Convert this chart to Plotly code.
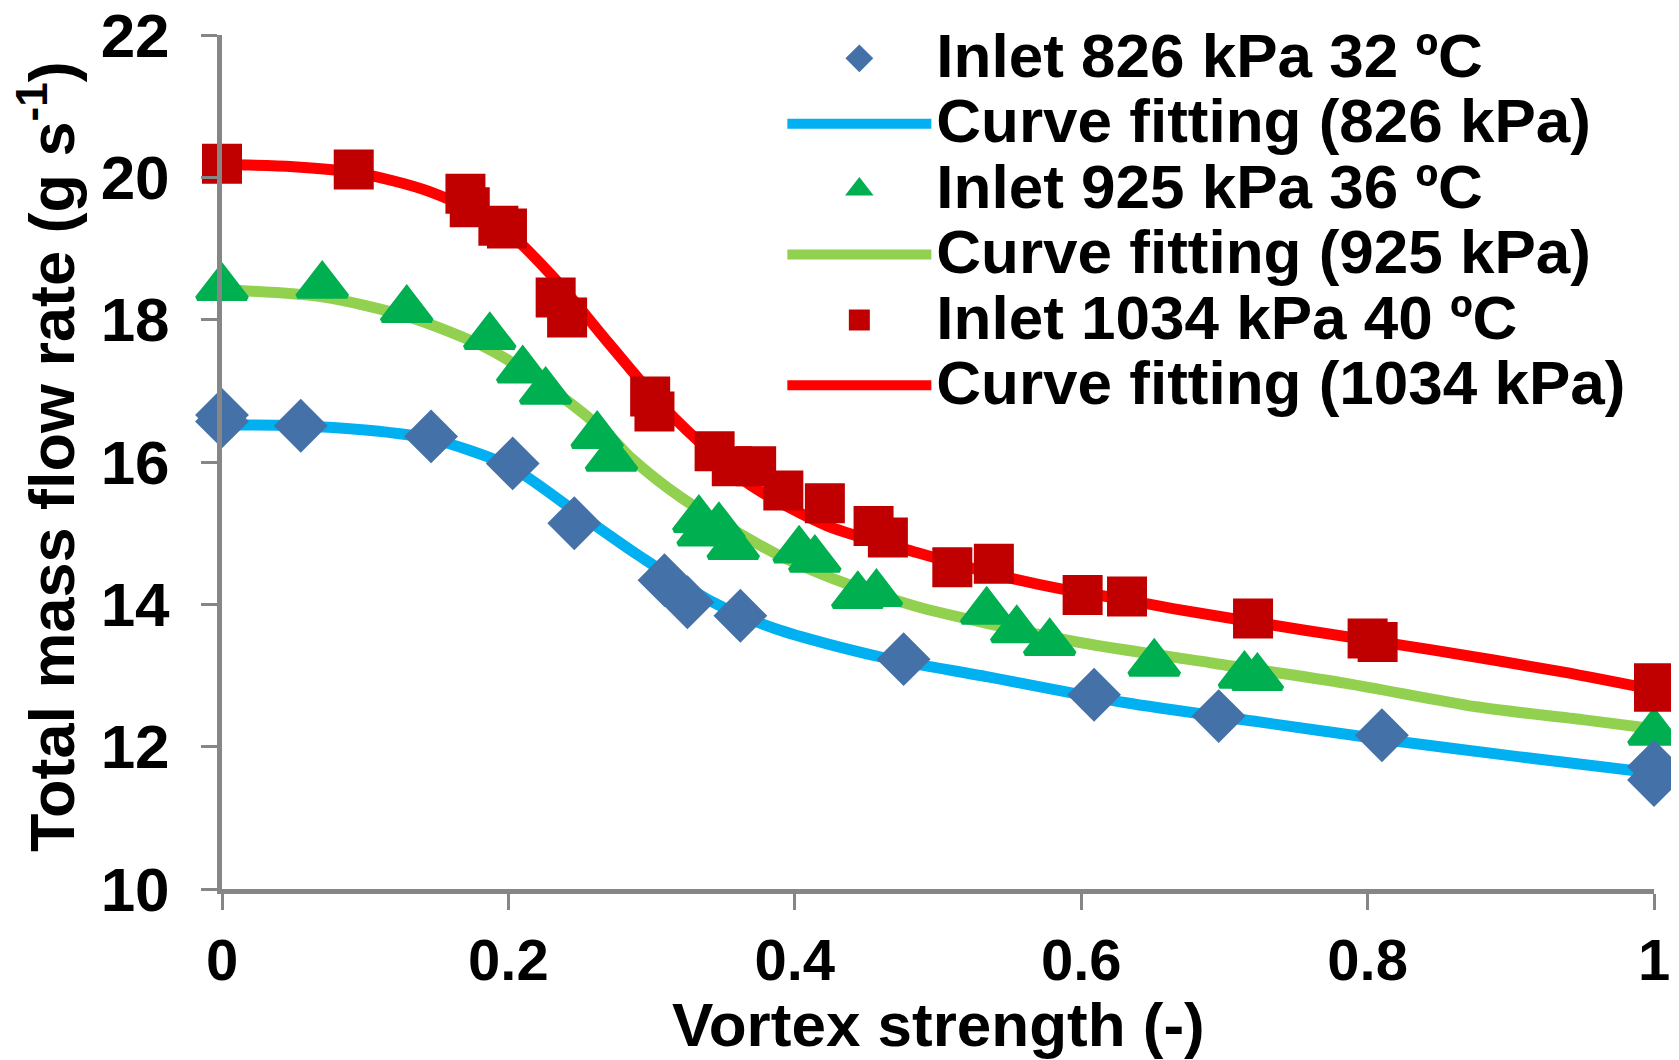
import plotly.graph_objects as go

# ---------------- data ----------------
x_826 = [0.0, 0.0, 0.055, 0.146, 0.203, 0.246, 0.309, 0.325, 0.362, 0.476, 0.609, 0.696, 0.810, 1.0, 1.0]
y_826 = [16.66, 16.57, 16.51, 16.36, 15.98, 15.14, 14.34, 14.03, 13.84, 13.23, 12.73, 12.43, 12.16, 11.72, 11.53]

x_925 = [0.0, 0.070, 0.129, 0.187, 0.210, 0.226, 0.262, 0.272, 0.333, 0.336, 0.347, 0.357,
         0.403, 0.414, 0.444, 0.457, 0.534, 0.555, 0.578, 0.651, 0.714, 0.723, 1.0]
y_925 = [18.45, 18.48, 18.14, 17.76, 17.29, 16.99, 16.37, 16.05, 15.19, 15.00, 15.09, 14.81,
         14.76, 14.63, 14.12, 14.15, 13.90, 13.64, 13.46, 13.17, 13.00, 12.97, 12.20]

x_1034 = [0.0, 0.092, 0.170, 0.173, 0.193, 0.199, 0.233, 0.241, 0.299, 0.302, 0.344, 0.356, 0.373,
          0.392, 0.421, 0.455, 0.465, 0.510, 0.539, 0.601, 0.632, 0.720, 0.800, 0.807, 1.0, 1.0]
y_1034 = [20.19, 20.11, 19.77, 19.58, 19.32, 19.28, 18.31, 18.03, 16.92, 16.71, 16.15, 15.94, 15.94,
          15.60, 15.42, 15.10, 14.94, 14.52, 14.57, 14.13, 14.11, 13.80, 13.52, 13.47, 12.89, 12.77]

fit_x_826 = [0.0, 0.05, 0.10, 0.145, 0.20, 0.245, 0.29, 0.34, 0.386, 0.46, 0.535, 0.63, 0.72, 0.815, 0.905, 1.0]
fit_y_826 = [16.52, 16.51, 16.45, 16.33, 15.95, 15.33, 14.70, 14.06, 13.66, 13.26, 12.98, 12.62, 12.36, 12.09, 11.86, 11.63]

fit_x_925 = [0.0, 0.07, 0.13, 0.187, 0.233, 0.27, 0.286, 0.32, 0.386, 0.436, 0.485, 0.535, 0.60, 0.69, 0.785, 0.876, 0.95, 1.0]
fit_y_925 = [18.42, 18.32, 18.04, 17.58, 16.98, 16.38, 16.05, 15.51, 14.72, 14.29, 13.97, 13.73, 13.46, 13.18, 12.89, 12.56, 12.38, 12.25]

fit_x_1034 = [0.0, 0.05, 0.095, 0.145, 0.195, 0.233, 0.27, 0.307, 0.345, 0.371, 0.423, 0.483, 0.54,
              0.585, 0.627, 0.664, 0.755, 0.845, 0.936, 1.0]
fit_y_1034 = [20.18, 20.15, 20.06, 19.80, 19.31, 18.56, 17.67, 16.80, 16.07, 15.65, 15.10, 14.74, 14.42,
              14.22, 14.08, 13.94, 13.64, 13.36, 13.05, 12.80]

x_ticks = [0, 0.2, 0.4, 0.6, 0.8, 1.0]
x_ticktext = ["0", "0.2", "0.4", "0.6", "0.8", "1"]
y_ticks = [10, 12, 14, 16, 18, 20, 22]

x_title = "Vortex strength (-)"
y_title = "Total mass flow rate (g s<sup>-1</sup>)"

# ---------------- figure ----------------
FONT = "Liberation Sans, Arial, sans-serif"
GRAY = "#868686"


def big(txt):
    # larger glyphs inside a legend whose row pitch follows the (smaller) legend font
    return '<span style="font-size:62px">' + txt + '</span>'


fig = go.Figure()

# fitted curves (drawn first so that markers sit on top)
fig.add_trace(go.Scatter(x=fit_x_826, y=fit_y_826, mode="lines", name=big("Curve fitting (826 kPa)"),
                         line=dict(color="#00B0F0", width=11, shape="spline", smoothing=0.8),
                         legendrank=2, cliponaxis=False))
fig.add_trace(go.Scatter(x=fit_x_925, y=fit_y_925, mode="lines", name=big("Curve fitting (925 kPa)"),
                         line=dict(color="#92D050", width=11, shape="spline", smoothing=0.8),
                         legendrank=4, cliponaxis=False))
fig.add_trace(go.Scatter(x=fit_x_1034, y=fit_y_1034, mode="lines", name=big("Curve fitting (1034 kPa)"),
                         line=dict(color="#FF0000", width=11, shape="spline", smoothing=0.8),
                         legendrank=6, cliponaxis=False))

# measured points (a same-colour outline makes the legend keys larger too)
fig.add_trace(go.Scatter(x=x_925, y=y_925, mode="markers", name=big("Inlet 925 kPa 36 ºC"),
                         marker=dict(symbol="triangle-up", size=43, color="#00B050",
                                     line=dict(color="#00B050", width=5)),
                         legendrank=3, cliponaxis=False))
fig.add_trace(go.Scatter(x=x_1034, y=y_1034, mode="markers", name=big("Inlet 1034 kPa 40 ºC"),
                         marker=dict(symbol="square", size=35, color="#C00000",
                                     line=dict(color="#C00000", width=5)),
                         legendrank=5, cliponaxis=False))
fig.add_trace(go.Scatter(x=x_826, y=y_826, mode="markers", name=big("Inlet 826 kPa 32 ºC"),
                         marker=dict(symbol="diamond", size=36, color="#4571A9",
                                     line=dict(color="#4571A9", width=5)),
                         legendrank=1, cliponaxis=False))

# the page body has an 8 px margin, so the figure is 8 px smaller than the window
fig.update_layout(
    width=1671, height=1052,
    margin=dict(l=214, r=25, t=27, b=171, autoexpand=False),
    paper_bgcolor="white", plot_bgcolor="white",
    font=dict(family=FONT, color="black", weight="bold"),
    showlegend=True,
    legend=dict(
        xref="container", yref="container",
        x=0.4634, y=0.988, xanchor="left", yanchor="top",
        bgcolor="rgba(0,0,0,0)", borderwidth=0,
        font=dict(family=FONT, size=48, color="black", weight="bold"),
        itemwidth=144, itemsizing="trace", traceorder="normal",
    ),
    xaxis=dict(
        range=[0, 1], tickmode="array", tickvals=x_ticks, ticktext=x_ticktext,
        showline=True, linecolor=GRAY, linewidth=5,
        ticks="outside", ticklen=16, tickwidth=3, tickcolor=GRAY,
        showgrid=False, zeroline=False, automargin=False,
        tickfont=dict(family=FONT, size=58, color="black", weight="bold"),
        ticklabelstandoff=0, ticklabeloverflow="allow",
    ),
    yaxis=dict(
        range=[10, 22], tickmode="array", tickvals=y_ticks,
        showline=True, linecolor=GRAY, linewidth=5,
        ticks="outside", ticklen=16, tickwidth=3, tickcolor=GRAY,
        showgrid=False, zeroline=False, automargin=False,
        tickfont=dict(family=FONT, size=62, color="black", weight="bold"),
        ticklabelstandoff=19, ticklabeloverflow="allow",
    ),
    annotations=[
        dict(text=x_title, xref="paper", yref="paper", x=0.5, y=-0.159,
             xanchor="center", yanchor="middle", showarrow=False,
             font=dict(family=FONT, size=62, color="black", weight="bold")),
        dict(text=y_title, xref="paper", yref="paper", x=-0.1222, y=0.506,
             xanchor="center", yanchor="middle", showarrow=False, textangle=-90,
             font=dict(family=FONT, size=63, color="black", weight="bold")),
    ],
)

fig.write_html("out.html")
